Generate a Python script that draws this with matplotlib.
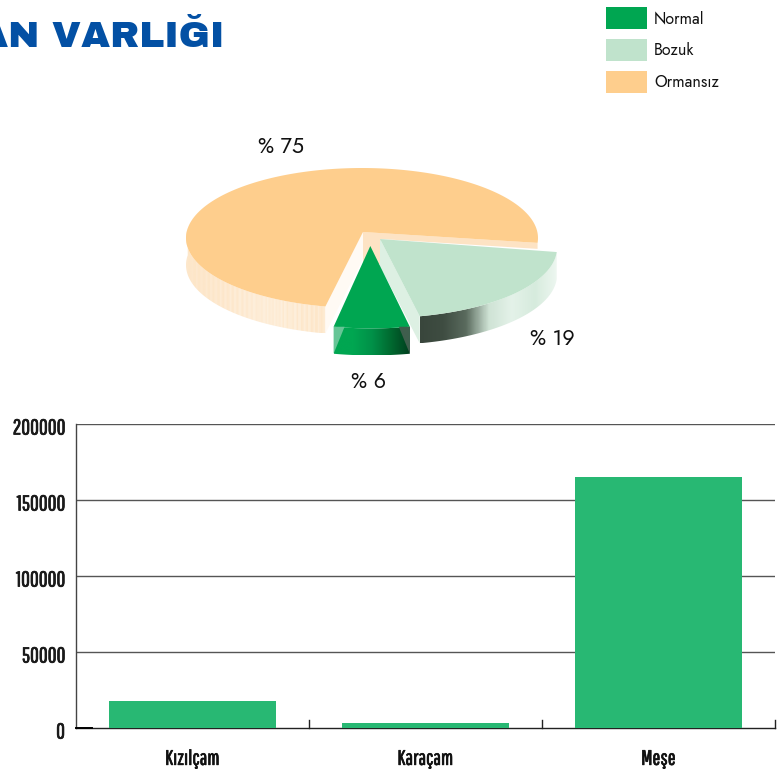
import numpy as np
import matplotlib
matplotlib.use("Agg")
import matplotlib.pyplot as plt
from matplotlib.patches import Polygon, Patch
from matplotlib.colors import LinearSegmentedColormap
from matplotlib.transforms import ScaledTranslation
import matplotlib.patheffects as pe
import logging
logging.getLogger("matplotlib.font_manager").setLevel(logging.ERROR)

# ---- data
categories = ["Kızılçam", "Karaçam", "Meşe"]
volumes = [17800, 3000, 165000]
yticks = [0, 50000, 100000, 150000, 200000]
pie_labels = ["Ormansız", "Bozuk", "Normal"]
pie_values = [75, 19, 6]
legend_labels = ["Normal", "Bozuk", "Ormansız"]
title_text = "AN VARLIĞI"

W, H = 783, 769
fig = plt.figure(figsize=(W / 100, H / 100), dpi=100, facecolor="white")
NARROW = ["Pathway Gothic One", "Oswald", "Lato", "DejaVu Sans"]
BODY = ["Jost", "Lato", "DejaVu Sans"]
GREEN, PALE, ORANGE = "#00A651", "#C0E3CC", "#FECE8D"

# ---- bar chart
ax = fig.add_axes([76 / W, 1 - 728 / H, 699 / W, 304 / H])
ax.bar(range(3), volumes, width=0.72, color="#28B873", zorder=3)
ax.set_xlim(-0.5, 2.5)
ax.set_ylim(0, 200000)
ax.set_yticks(yticks)
ax.set_yticklabels([str(v) for v in yticks], fontsize=15.5, family=NARROW, color="#1a1a1a")
ax.set_xticks(range(3))
ax.set_xticklabels(categories, fontsize=15, family=NARROW, color="#111111")
ax.tick_params(axis="y", length=0, pad=8)
ax.tick_params(axis="x", length=0, pad=15)
stroke = [pe.withStroke(linewidth=0.5, foreground="#111111")]
shift = ScaledTranslation(0, -2.5 / 100, fig.dpi_scale_trans)
for lab in ax.get_yticklabels():
    lab.set_transform(lab.get_transform() + shift)
    lab.set_path_effects(stroke)
for lab in ax.get_xticklabels():
    lab.set_path_effects(stroke)
for v in yticks[1:]:
    ax.axhline(v, color="#555555", lw=1.0, zorder=1)
for s in ["top", "right"]:
    ax.spines[s].set_visible(False)
ax.spines["left"].set_color("#444444")
ax.spines["left"].set_linewidth(1.0)
ax.spines["bottom"].set_color("#222222")
ax.spines["bottom"].set_linewidth(1.0)
for e in [0.5, 1.5, 2.5]:
    ax.plot([e, e], [0, 5000], color="#222222", lw=1.0, clip_on=False, zorder=4)
ax.plot([-0.5, -0.43], [0, 0], color="black", lw=1.4, clip_on=False, zorder=4)

# ---- exploded 3-D pie, in a pixel-space overlay
p = fig.add_axes([0, 0, 1, 1], facecolor="none")
p.set_xlim(0, W)
p.set_ylim(H, 0)
p.axis("off")

RX, RY, DEPTH = 176, 70, 27
shares = np.array(pie_values, float) * 3.6       # degrees for each slice
span_fix = np.array([-8.0, 5.6, 3.4])            # projection adjustment
spans = shares + span_fix
start_orange = -4.0
t_orange = (start_orange, start_orange + spans[0])
t_pale = (-3.3 - spans[1], -3.3)
t_green = (-90 - spans[2] / 2, -90 + spans[2] / 2)


def arc(cx, cy, t1, t2, n=160):
    t = np.radians(np.linspace(t1, t2, n))
    return np.column_stack([cx + RX * np.cos(t), cy - RY * np.sin(t)])


def side_face(cx, cy, t1, t2, colors, texture=0.0, z=2):
    a = arc(cx, cy, t1, t2)
    poly = np.vstack([a, a[::-1] + [0, DEPTH]])
    patch = Polygon(poly, closed=True, fc="none", ec="none", zorder=z)
    p.add_patch(patch)
    x0, x1 = poly[:, 0].min(), poly[:, 0].max()
    y0, y1 = poly[:, 1].min(), poly[:, 1].max()
    cols = max(int(x1 - x0) * 2, 2)
    g = np.linspace(0, 1, cols)
    if texture:
        g = g + texture * (np.sin(g * 310) * np.sin(g * 127 + 1.3))
    cmap = LinearSegmentedColormap.from_list("s", colors)
    im = p.imshow(np.clip(g, 0, 1)[None, :], extent=[x0, x1, y1, y0], cmap=cmap, vmin=0, vmax=1,
                  aspect="auto", zorder=z, interpolation="bilinear")
    im.set_clip_path(patch)
    p.set_xlim(0, W)
    p.set_ylim(H, 0)


# orange slice
oc = (362, 238)
oa = (363, 232)
side_face(oc[0], oc[1], 172, t_orange[1], ["#FDE6C8", "#FDE9D0", "#FEF1E0", "#FDE6C8"], texture=0.35)
oarc = arc(oc[0], oc[1], *t_orange)
p.add_patch(Polygon(np.vstack([oa, oarc]), fc=ORANGE, ec="none", zorder=4))
# cut faces of orange slice
p.add_patch(Polygon([oa, oarc[-1], oarc[-1] + [0, DEPTH], [oa[0], oa[1] + DEPTH]], fc="#FFFAF4", ec="none", zorder=3))
p.add_patch(Polygon([oa, oarc[0], oarc[0] + [0, 6], [oa[0] + 18, oa[1] + 7], [oa[0] + 18, oa[1] + 32], [oa[0], oa[1] + 32]],
                    fc="#FDE3C4", ec="none", zorder=3))

# pale green slice
pc = (381, 248)
pa = (380, 239)
side_face(pc[0], pc[1], t_pale[0], t_pale[1],
          ["#39463C", "#3F4D42", "#5A6B5E", "#CFE3D5", "#E4F2E9", "#D6EBDD", "#EEF7F1"], z=3)
parc = arc(pc[0], pc[1], *t_pale)
p.add_patch(Polygon([pa, parc[0], parc[0] + [0, DEPTH], [pa[0], pa[1] + DEPTH]], fc="#DDF0E3", ec="none", zorder=4))
p.add_patch(Polygon(np.vstack([pa, parc]), fc=PALE, ec="none", zorder=5))

# green slice
gc = (371.7, 258.4)
ga = (370.3, 246)
side_face(gc[0], gc[1], t_green[0], t_green[1],
          ["#00A651", "#00A651", "#009048", "#00682F", "#003D1E"], z=6)
garc = arc(gc[0], gc[1], *t_green)
p.add_patch(Polygon(np.vstack([ga, garc]), fc=GREEN, ec="none", zorder=7))
lo, ro = garc[0], garc[-1]
p.add_patch(Polygon([lo, lo + [11, 0], lo + [0, DEPTH]], fc="#66C596", ec="none", zorder=7))
p.add_patch(Polygon([ro, ro + [-11, 0], ro + [0, DEPTH]], fc="#3F5E4D", ec="none", zorder=7))

for txt, x, y in [("% 75", 281, 147), ("% 19", 552, 339), ("% 6", 369, 382)]:
    p.text(x, y, txt, fontsize=15.5, family=BODY, color="#111111", ha="center", va="center", zorder=9)

# ---- title, cropped at the left edge as in the source
p.text(224, 47, title_text, fontsize=27, family=["Archivo Black", "DejaVu Sans"], fontweight="bold",
       color="#0350A4", ha="right", va="baseline", zorder=9)

# ---- legend
FS = 11.5
px = FS / 0.72
handles = [Patch(fc=GREEN, ec="none"), Patch(fc=PALE, ec="none"), Patch(fc=ORANGE, ec="none")]
leg = fig.legend(handles, legend_labels, loc="upper left", bbox_to_anchor=(606 / W, 1 - 7 / H),
                 frameon=False, borderpad=0, borderaxespad=0, handlelength=41 / px, handleheight=1.74,
                 labelspacing=0.62, handletextpad=7 / px, prop={"family": BODY, "size": FS})
for t in leg.get_texts():
    t.set_color("#111111")

fig.savefig("out.png", dpi=100)
